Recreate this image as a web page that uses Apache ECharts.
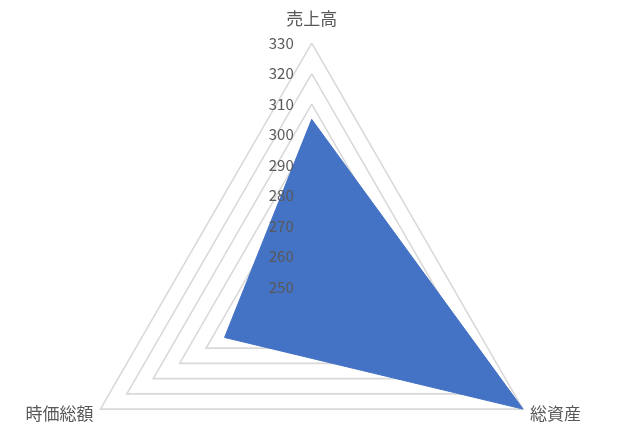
<!DOCTYPE html>
<html>
<head>
<meta charset="utf-8">
<script src="https://cdn.jsdelivr.net/npm/echarts@6/dist/echarts.min.js"></script>
<style>
  html, body { margin: 0; padding: 0; background: #fff; }
  #chart { width: 631px; height: 435px; }
</style>
</head>
<body>
<div id="chart"></div>
<script>
// indicators in drawing order (counter-clockwise from top)
const indicatorNames = ['売上高', '時価総額', '総資産'];
const seriesValues = [305, 283, 330];
const axisMin = 250;
const axisMax = 330;
const tickStep = 10;

const font = '"Noto Sans CJK JP", "Noto Sans", sans-serif';
const nameGaps = [16, 8, 8];

const chart = echarts.init(document.getElementById('chart'));

const baseRadar = {
  center: ['49.4%', '66%'],
  radius: 244,
  shape: 'polygon',
  splitNumber: (axisMax - axisMin) / tickStep,
  axisLine: { show: false },
  axisTick: { show: false },
  splitArea: { show: false }
};

const option = {
  animation: false,
  radar: [
    Object.assign({}, baseRadar, {
      z: 1,
      indicator: indicatorNames.map((n, i) => ({
        name: n, min: axisMin, max: axisMax, nameGap: nameGaps[i]
      })),
      axisName: { color: '#595959', fontSize: 17, fontFamily: font },
      nameGap: 8,
      splitLine: { lineStyle: { color: '#d9d9d9', width: 1.6 } },
      axisLabel: { show: false }
    }),
    Object.assign({}, baseRadar, {
      z: 10,
      indicator: indicatorNames.map((n, i) => ({
        name: n, min: axisMin, max: axisMax,
        axisLabel: { show: i === 0 }
      })),
      axisName: { show: false },
      splitLine: { show: false },
      axisLabel: {
        show: false, color: '#595959', fontSize: 15, fontFamily: font, margin: 18
      }
    })
  ],
  series: [{
    type: 'radar',
    radarIndex: 0,
    symbol: 'none',
    lineStyle: { color: '#4472c4', width: 1 },
    areaStyle: { color: '#4472c4', opacity: 1 },
    data: [{ value: seriesValues }]
  }]
};

chart.setOption(option);
</script>
</body>
</html>
